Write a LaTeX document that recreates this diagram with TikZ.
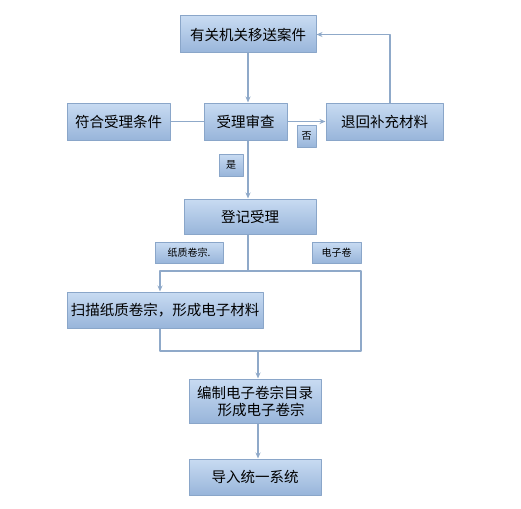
\documentclass[tikz,border=0pt]{standalone}
\usepackage{fontspec}
\setmainfont{Noto Sans CJK SC}
\usetikzlibrary{arrows.meta}
\definecolor{boxtop}{HTML}{C8DBF2}
\definecolor{boxbot}{HTML}{98B5DA}
\definecolor{boxline}{HTML}{8AA6C9}
\definecolor{linkline}{HTML}{8FA9C9}
\begin{document}
\begin{tikzpicture}[x=1pt, y=-1pt, line join=round, >={Stealth[length=6pt,width=5pt]},
	box/.style={draw=boxline, line width=1pt, top color=boxtop, bottom color=boxbot,
		inner sep=0pt, font=\fontsize{14.5}{17}\selectfont, align=center},
	tag/.style={box, font=\fontsize{10}{12}\selectfont},
	link/.style={draw=linkline, line width=1.2pt}]
	\useasboundingbox (0,0) rectangle (521,508);
	% boxes
	\node[box, minimum width=136pt, minimum height=37pt] (yisong) at (248,34.5) {有关机关移送案件};
	\node[box, minimum width=83pt, minimum height=37pt] (shencha) at (245.5,121.5) {受理审查};
	\node[box, minimum width=103pt, minimum height=37pt] (fuhe) at (118.5,121.5) {符合受理条件};
	\node[box, minimum width=117pt, minimum height=37pt] (tuihui) at (384.5,121.5) {退回补充材料};
	\node[tag, minimum width=19pt, minimum height=22pt] (fou) at (306.5,136) {否};
	\node[tag, minimum width=24pt, minimum height=22pt] (shi) at (231,165) {是};
	\node[box, minimum width=132pt, minimum height=35pt] (dengji) at (250,216.5) {登记受理};
	\node[tag, minimum width=68pt, minimum height=21pt] (zhizhi) at (189,252.5) {纸质卷宗.};
	\node[tag, minimum width=49pt, minimum height=21pt] (dianzi) at (336.5,252.5) {电子卷};
	\node[box, minimum width=196pt, minimum height=36pt] (saomiao) at (165,310) {扫描纸质卷宗，形成电子材料};
	\node[box, minimum width=132pt, minimum height=44pt] (bianzhi) at (255,401) {编制电子卷宗目录\\\hspace*{12pt}形成电子卷宗};
	\node[box, minimum width=132pt, minimum height=36pt] (daoru) at (255,477) {导入统一系统};
	% joints
	\coordinate (fen) at (248,271);
	\coordinate (fenR) at (361,271);
	\coordinate (he) at (258,351);
	\coordinate (heR) at (361,351);
	% links
	\draw[link,->] (yisong.south) -- (yisong.south |- shencha.north);
	\draw[link] (shencha.west) -- (fuhe.east);
	\draw[link,->] (shencha.east) -- (tuihui.west);
	\draw[link,->] ([xshift=5.5pt]tuihui.north) |- (yisong.east);
	\draw[link,->] (yisong.south |- shencha.south) -- (yisong.south |- dengji.north);
	\draw[link] (fen |- dengji.south) -- (fen) -- (fenR) -- (heR) -- (he);
	\draw[link,->] (fen) -| ([xshift=-5pt]saomiao.north);
	\draw[link] ([xshift=-5pt]saomiao.south) |- (he);
	\draw[link,->] (he) -- (he |- bianzhi.north);
	\draw[link,->] (he |- bianzhi.south) -- (he |- daoru.north);
\end{tikzpicture}
\end{document}
